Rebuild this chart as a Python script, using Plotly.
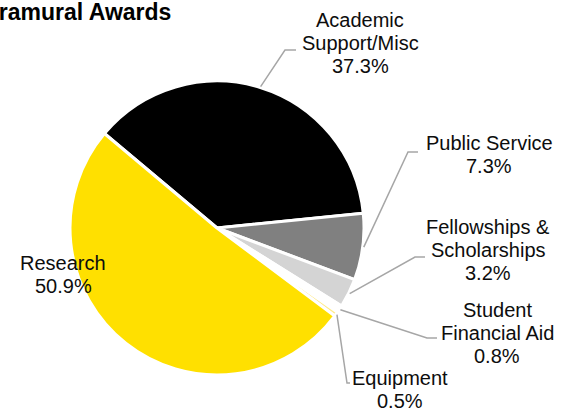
import math
import plotly.graph_objects as go

# Award categories and their share of the total (%)
categories = ["Academic Support/Misc", "Public Service", "Fellowships & Scholarships",
              "Student Financial Aid", "Equipment", "Research"]
label_lines = [["Academic", "Support/Misc"], ["Public Service"], ["Fellowships &", "Scholarships"],
               ["Student", "Financial Aid"], ["Equipment"], ["Research"]]
shares = [37.3, 7.3, 3.2, 0.8, 0.5, 50.9]
colors = ["#000000", "#808080", "#D4D4D4", "#FFFFFF", "#FFEB8A", "#FFE000"]

W, H = 580, 409
FONT = "Arial, Liberation Sans, sans-serif"
START_ANGLE = -50  # first slice begins 50 degrees left of 12 o'clock
LINE_GAP = 23      # vertical distance between label lines, px

# pie placement in pixels (square domain)
pie_left, pie_right, pie_top, pie_bottom = 70, 364, 81, 375
cx = (pie_left + pie_right) / 2
cy = (pie_top + pie_bottom) / 2
radius = (pie_right - pie_left) / 2


def px(x):
    return x / W


def py(y):
    return 1 - y / H


fig = go.Figure(go.Pie(
    labels=categories,
    values=shares,
    sort=False,
    direction="clockwise",
    rotation=START_ANGLE,
    marker=dict(colors=colors, line=dict(color="white", width=3)),
    textinfo="none",
    hoverinfo="label+percent",
    showlegend=False,
    domain=dict(x=[px(pie_left), px(pie_right)], y=[py(pie_bottom), py(pie_top)]),
))

# label centre x and first-line y, plus leader-line elbows (pixels)
label_pos = [(360, 20), (489, 143), (488, 227), (497, 310), (400, 378), (63, 263)]
elbows = [((285, 50), (296, 50)),
          ((408, 152), (418, 152)),
          ((415, 257), (425, 257)),
          ((427, 338), (437, 338)),
          ((347, 383), (350, 383)),
          None]

total = sum(shares)
angle = START_ANGLE
shapes = []
annotations = []
for lines, val, pos, elbow in zip(label_lines, shares, label_pos, elbows):
    mid = angle + 360 * val / total / 2
    angle += 360 * val / total
    if elbow is not None:
        a = math.radians(mid)
        sx = cx + (radius + 1) * math.sin(a)
        sy = cy - (radius + 1) * math.cos(a)
        path = "M {} {} L {} {} L {} {}".format(
            px(sx), py(sy), px(elbow[0][0]), py(elbow[0][1]), px(elbow[1][0]), py(elbow[1][1]))
        shapes.append(dict(type="path", xref="paper", yref="paper", path=path,
                           line=dict(color="#A6A6A6", width=1.5)))
    for i, line in enumerate(lines + ["{:.1f}%".format(val)]):
        annotations.append(dict(
            x=px(pos[0]), y=py(pos[1] + i * LINE_GAP), xref="paper", yref="paper",
            text=line, showarrow=False,
            xanchor="center", yanchor="middle", align="center",
            font=dict(family=FONT, size=20, color="#0D0D0D"),
        ))

# chart title (its left part runs past the page edge)
annotations.append(dict(
    x=px(173), y=py(12), xref="paper", yref="paper",
    text="<b>Extramural Awards</b>", showarrow=False,
    xanchor="right", yanchor="middle",
    font=dict(family=FONT, size=23, color="#000000"),
))

fig.update_layout(
    width=W, height=H,
    margin=dict(l=0, r=0, t=0, b=0),
    paper_bgcolor="white",
    plot_bgcolor="white",
    shapes=shapes,
    annotations=annotations,
)

fig.write_html("out.html")
